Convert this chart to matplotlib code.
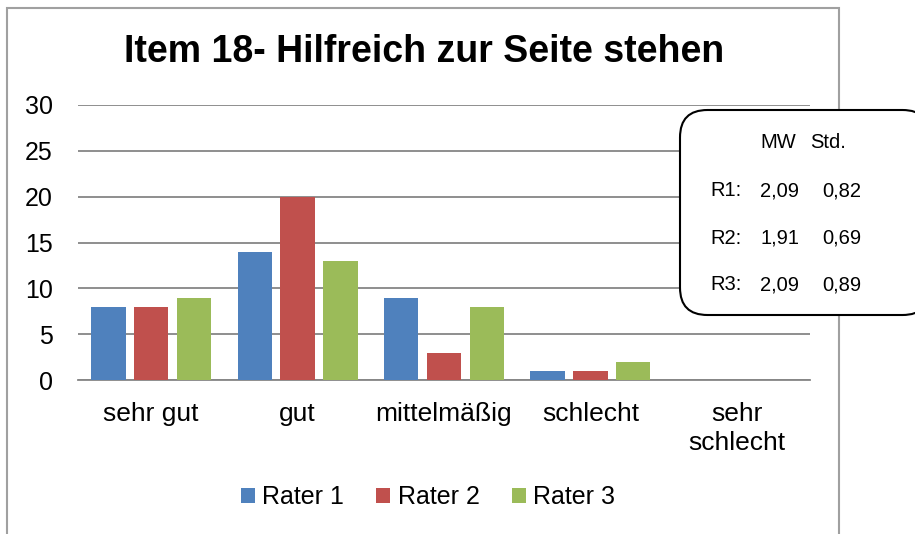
import matplotlib
matplotlib.use("Agg")
import matplotlib.pyplot as plt
from matplotlib.patches import FancyBboxPatch, Rectangle
import numpy as np

plt.rcParams['font.family'] = ['Liberation Sans', 'DejaVu Sans']

categories = ["sehr gut", "gut", "mittelmäßig", "schlecht", "sehr\nschlecht"]
rater1 = [8, 14, 9, 1, 0]
rater2 = [8, 20, 3, 1, 0]
rater3 = [9, 13, 8, 2, 0]
series_names = ["Rater 1", "Rater 2", "Rater 3"]
colors = ["#4F81BD", "#C0504D", "#9BBB59"]
title = "Item 18- Hilfreich zur Seite stehen"
yticks = [0, 5, 10, 15, 20, 25, 30]
stats_rows = [("R1:", "2,09", "0,82"), ("R2:", "1,91", "0,69"), ("R3:", "2,09", "0,89")]

W, H = 915, 534
fig = plt.figure(figsize=(W / 100, H / 100), dpi=100)
ax = fig.add_axes([78 / W, 1 - 380 / H, (810 - 78) / W, (380 - 105) / H])

x = np.arange(len(categories))
bw = 0.235
off = 0.293
for i, (vals, name, c) in enumerate(zip([rater1, rater2, rater3], series_names, colors)):
    ax.bar(x + (i - 1) * off, vals, width=bw, color=c, label=name, zorder=3)

ax.set_xlim(-0.5, len(categories) - 0.5)
ax.set_ylim(0, 30)
ax.set_yticks(yticks)
ax.set_yticklabels([str(t) for t in yticks], fontsize=18)
ax.set_xticks(x)
ax.set_xticklabels(categories, fontsize=19, linespacing=1.25)
ax.tick_params(axis='y', length=0, pad=18)
ax.tick_params(axis='x', length=0, pad=16)
ax.grid(axis='y', color='#868686', linewidth=1.3, zorder=0)
for s in ['top', 'right', 'left']:
    ax.spines[s].set_visible(False)
ax.spines['bottom'].set_color('#868686')
ax.spines['bottom'].set_linewidth(1.3)

fig.text(424 / W, 1 - 52 / H, title, fontsize=27, fontweight='bold', ha='center', va='center')

leg = fig.legend(loc='center', bbox_to_anchor=(428 / W, 1 - 497 / H), ncol=3, frameon=False,
                 fontsize=18, handlelength=0.55, handleheight=0.55, handletextpad=0.3,
                 columnspacing=1.3)

# outer chart frame
fig.patches.append(Rectangle((7 / W, -0.05), (839 - 7) / W, 1.05 - 8 / H, transform=fig.transFigure,
                             fill=False, edgecolor='#a0a0a0', linewidth=1.5, zorder=0))

# stats box
box = FancyBboxPatch((680 / W, 1 - 315 / H), (930 - 680) / W, (315 - 110) / H,
                     boxstyle="round,pad=0,rounding_size=0.03", transform=fig.transFigure,
                     facecolor='white', edgecolor='black', linewidth=1.5, zorder=5,
                     mutation_aspect=W / H)
fig.patches.append(box)
fs = 14.5
fig.text(778 / W, 1 - 143 / H, "MW", fontsize=fs, ha='center', va='center', zorder=6)
fig.text(828 / W, 1 - 143 / H, "Std.", fontsize=fs, ha='center', va='center', zorder=6)
for j, (r, mw, sd) in enumerate(stats_rows):
    yy = 1 - (191 + j * 47) / H
    fig.text(710 / W, yy, r, fontsize=fs, ha='left', va='center', zorder=6)
    fig.text(760 / W, yy, mw, fontsize=fs, ha='left', va='center', zorder=6)
    fig.text(822 / W, yy, sd, fontsize=fs, ha='left', va='center', zorder=6)

fig.savefig("out.png", dpi=100)
